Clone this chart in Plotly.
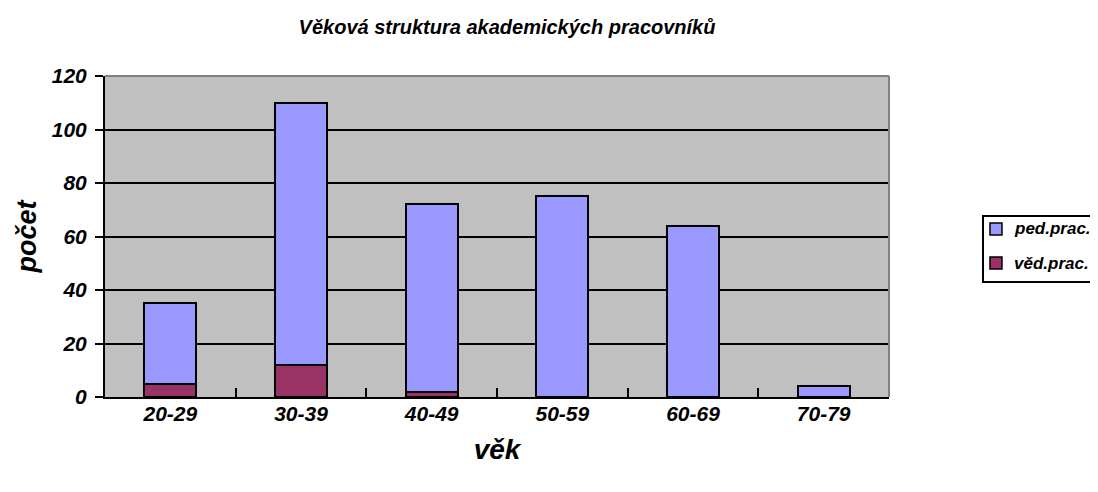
import plotly.graph_objects as go

categories = ["20-29", "30-39", "40-49", "50-59", "60-69", "70-79"]
ped_prac = [30, 98, 70, 75, 64, 4]
ved_prac = [5, 12, 2, 0, 0, 0]
y_ticks = [0, 20, 40, 60, 80, 100, 120]
legend_names = ["ped.prac.", "věd.prac."]
colors = {"ped.prac.": "#9999FF", "věd.prac.": "#993366"}

FONT = "Liberation Sans Narrow, Liberation Sans, Arial"

def bi(s):
    return "<b><i>" + s + "</i></b>"

fig = go.Figure()
fig.add_trace(go.Bar(x=categories, y=ved_prac, name="věd.prac.", showlegend=False,
                     marker=dict(color=colors["věd.prac."], line=dict(color="black", width=2))))
fig.add_trace(go.Bar(x=categories, y=ped_prac, name="ped.prac.", showlegend=False,
                     marker=dict(color=colors["ped.prac."], line=dict(color="black", width=2))))

fig.update_layout(
    width=1098, height=492,
    margin=dict(l=97, r=217, t=68, b=103, autoexpand=False),
    barmode="stack", bargap=0.6,
    paper_bgcolor="white", plot_bgcolor="#C0C0C0",
    font=dict(family=FONT, color="black"),
    title=dict(text=bi("Věková struktura akademických pracovníků"),
               x=0.4545, xanchor="center", y=0.962, yanchor="middle",
               font=dict(size=20, family=FONT)),
    xaxis=dict(title=dict(text=bi("věk"), font=dict(size=28, family=FONT), standoff=15),
               tickfont=dict(size=21, family=FONT), ticklabelstandoff=-3,
               tickvals=categories, ticktext=[bi(c) for c in categories],
               ticks="inside", tickson="boundaries", ticklen=9, tickwidth=2, tickcolor="black",
               showline=True, linecolor="black", linewidth=2, showgrid=False),
    yaxis=dict(title=dict(text=bi("počet"), font=dict(size=27, family=FONT), standoff=7),
               range=[0, 120], tickvals=y_ticks, ticktext=[bi(str(v)) for v in y_ticks],
               tickfont=dict(size=21, family=FONT), ticklabelstandoff=4,
               ticks="outside", ticklen=8, tickwidth=2, tickcolor="black",
               showline=True, linecolor="black", linewidth=2,
               showgrid=True, gridcolor="black", gridwidth=2, zeroline=False),
)
fig.add_shape(type="line", xref="paper", yref="paper", x0=0, x1=1, y0=1, y1=1,
              line=dict(color="#808080", width=2), layer="above")
fig.add_shape(type="line", xref="paper", yref="paper", x0=1, x1=1, y0=0, y1=1,
              line=dict(color="#808080", width=2), layer="above")

# manual legend (box, swatches, labels)
fig.add_shape(type="rect", xref="paper", yref="paper", x0=1.1199, x1=1.27, y0=0.3583, y1=0.5639,
              line=dict(color="black", width=2), fillcolor="white", layer="above")
rows_y = [0.5234, 0.4174]
for name, yy in zip(legend_names, rows_y):
    fig.add_shape(type="rect", xref="paper", yref="paper", x0=1.1288, x1=1.1441,
                  y0=yy - 0.0187, y1=yy + 0.0187,
                  line=dict(color="black", width=1.5), fillcolor=colors[name], layer="above")
    fig.add_annotation(xref="paper", yref="paper", x=1.1569, y=yy, xanchor="left", yanchor="middle",
                       text=bi(name), showarrow=False, font=dict(size=17, family=FONT))

fig.write_html("out.html")
